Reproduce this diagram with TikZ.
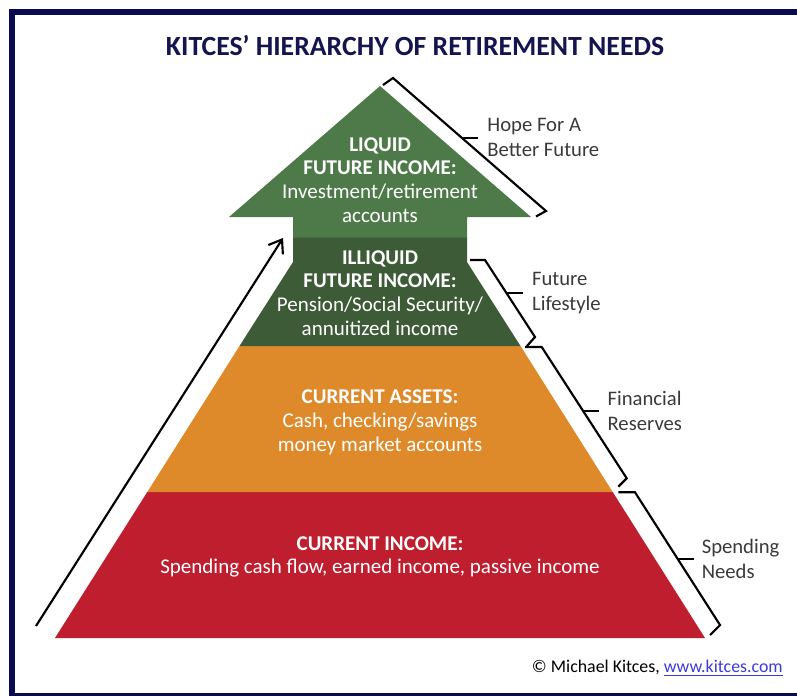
\documentclass[tikz,border=0pt]{standalone}
\usepackage{fontspec}
\setmainfont{Carlito}
\usetikzlibrary{arrows.meta, calc}
\usetikzlibrary{positioning}

\definecolor{framenavy}{HTML}{0B0B4F}
\definecolor{titlenavy}{HTML}{14144F}
\definecolor{leafgreen}{HTML}{4E7A4A}
\definecolor{mossgreen}{HTML}{3D5B36}
\definecolor{amber}{HTML}{DF8A2A}
\definecolor{brickred}{HTML}{BE1E2E}
\definecolor{labelgray}{HTML}{3A3A3A}
\definecolor{linkblue}{HTML}{3B3BDB}

\tikzstyle{title_text} = [
    titlenavy,
    font=\fontsize{20.8}{24}\selectfont\bfseries,
    inner sep=0pt
]
\tikzstyle{layer_text} = [
    white,
    align=center,
    font=\fontsize{15.75}{17.8}\selectfont,
    inner sep=0pt
]
\tikzstyle{side_label} = [
    labelgray,
    align=left,
    font=\fontsize{15.5}{18.75}\selectfont, % two lines per label
    inner sep=0pt
]
\tikzstyle{bracket_line} = [
    black,
    line width=1.6pt
]

\begin{document}
\begin{tikzpicture}[
    x=0.75pt, y=-0.75pt, % one unit is one pixel, y runs downwards
    climb/.style={
        -{Straight Barb[length=9pt, width=13pt]},
        line width=1.6pt
    }
]
\useasboundingbox (0,0) rectangle (797,696);
\draw[framenavy, line width=4.6pt] (12,12) rectangle (812,696);

\node[title_text] (title) at (415,46) {KITCES’ HIERARCHY OF RETIREMENT NEEDS};

% layers, bottom to top
\fill[brickred] (55,638) -- (705,638) -- (612.7,492) -- (147.3,492) -- cycle;
\fill[amber] (147.3,492) -- (612.7,492) -- (520.5,346) -- (239.5,346) -- cycle;
\fill[mossgreen] (239.5,346) -- (520.5,346) -- (467,262) -- (467,237)
    -- (293,237) -- (293,262) -- cycle;
\fill[leafgreen] (293,237.5) -- (293,217) -- (229,217) -- (380,86)
    -- (531,217) -- (467,217) -- (467,237.5) -- cycle;

\node[layer_text] (liquid) at (380,180) {\textbf{LIQUID}\\\textbf{FUTURE INCOME:}\\Investment/retirement\\accounts};
\node[layer_text] (illiquid) at (380,293) {\textbf{ILLIQUID}\\\textbf{FUTURE INCOME:}\\Pension/Social Security/\\annuitized income};
\node[layer_text] (assets) at (380,422.5) {\textbf{CURRENT ASSETS:}\\Cash, checking/savings\\money market accounts};
\node[layer_text] (income) at (380,557) {\textbf{CURRENT INCOME:}\\Spending cash flow, earned income, passive income};

% rising arrow on the left
\coordinate (climb_start) at (36,626);
\coordinate (climb_end) at (283,238);
\draw[climb] (climb_start) -- (climb_end);

% brackets on the right
\coordinate (hope_a) at (383,85);
\coordinate (hope_b) at (393,78);
\coordinate (hope_c) at (546,211);
\coordinate (hope_d) at (536,216.5);
\draw[bracket_line] (hope_a) -- (hope_b) -- (hope_c) -- (hope_d);
\draw[bracket_line] ($(hope_b)!0.45!(hope_c)$) -- ++(16,0) coordinate (hope_tick);
\node[side_label, right=7pt of hope_tick] (hope) {Hope For A\\Better Future};

\coordinate (life_a) at (470,260);
\coordinate (life_b) at (485,260);
\coordinate (life_c) at (535,337);
\coordinate (life_d) at (527,346);
\draw[bracket_line] (life_a) -- (life_b) -- (life_c) -- (life_d);
\draw[bracket_line] ($(life_b)!0.43!(life_c)$) -- ++(16,0) coordinate (life_tick);
\node[side_label, right=7pt of life_tick] (life) {Future\\Lifestyle};

\coordinate (reserve_a) at (525,347);
\coordinate (reserve_b) at (541.7,347);
\coordinate (reserve_c) at (626.7,478.3);
\coordinate (reserve_d) at (618.3,486.7);
\draw[bracket_line] (reserve_a) -- (reserve_b) -- (reserve_c) -- (reserve_d);
\draw[bracket_line] ($(reserve_b)!0.49!(reserve_c)$) -- ++(16,0) coordinate (reserve_tick);
\node[side_label, right=6pt of reserve_tick] (reserve) {Financial\\Reserves};

\coordinate (spend_a) at (618.3,492.3);
\coordinate (spend_b) at (635,492.3);
\coordinate (spend_c) at (720,625);
\coordinate (spend_d) at (710,635);
\draw[bracket_line] (spend_a) -- (spend_b) -- (spend_c) -- (spend_d);
\draw[bracket_line] ($(spend_b)!0.5!(spend_c)$) -- ++(16,0) coordinate (spend_tick);
\node[side_label, right=6pt of spend_tick] (spend) {Spending\\Needs};

\node[anchor=east, inner sep=0pt, font=\fontsize{13.4}{16}\selectfont] (credit) at (783,668)
    {© Michael Kitces, \textcolor{linkblue}{\underline{www.kitces.com}}};
\end{tikzpicture}
\end{document}
